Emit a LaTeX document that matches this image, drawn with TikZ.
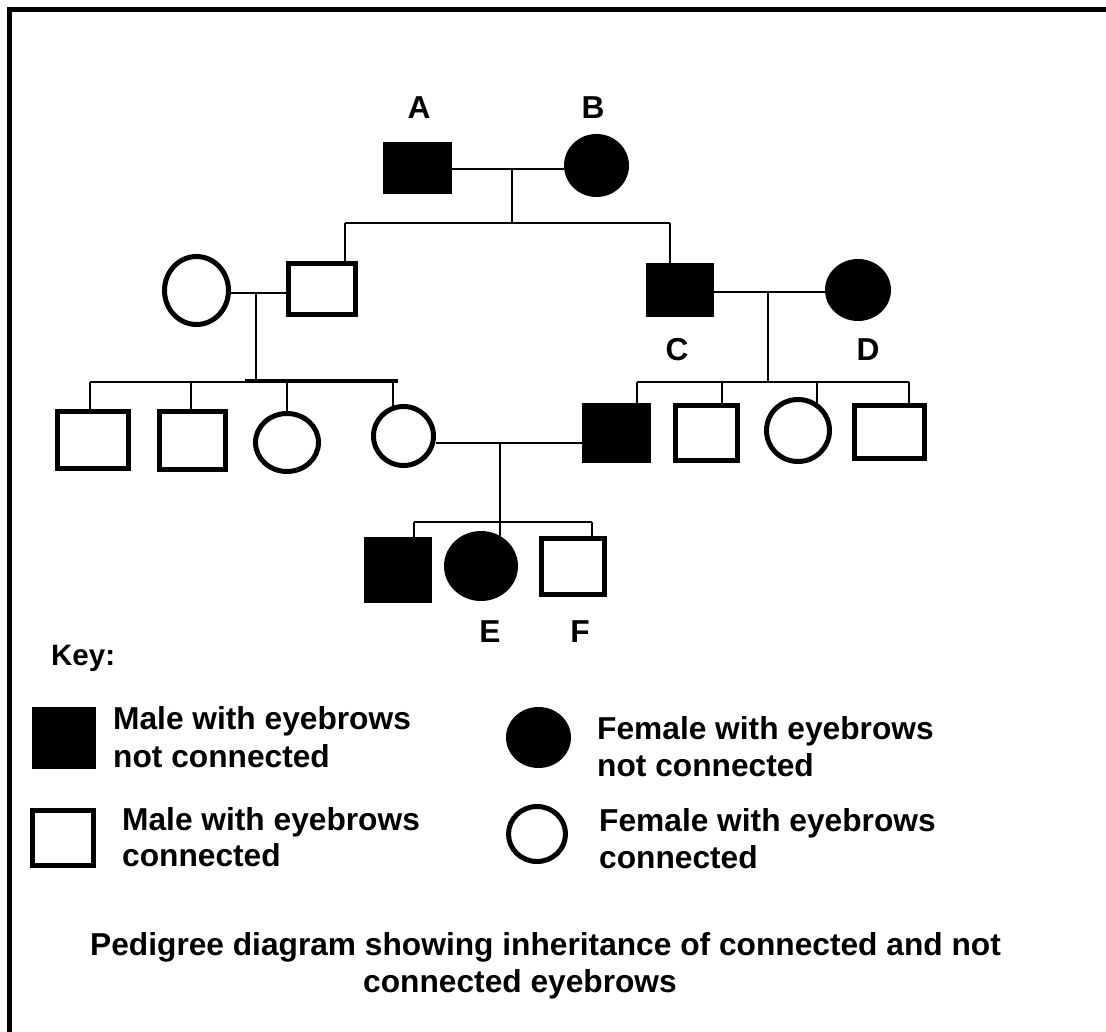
\documentclass[tikz,border=0pt]{standalone}
\usepackage{fontspec}
\setmainfont{Liberation Sans}
\usetikzlibrary{shapes.geometric}
\tikzset{
  conn/.style={line width=2pt, draw=black},
  bar/.style={line width=3.5pt, draw=black},
  fmale/.style={rectangle, fill=black, draw=none, inner sep=0pt, outer sep=0pt},
  omale/.style={rectangle, draw=black, fill=white, line width=5pt, inner sep=0pt},
  ffemale/.style={ellipse, fill=black, draw=none, inner sep=0pt, outer sep=0pt},
  ofemale/.style={ellipse, draw=black, fill=white, line width=5pt, inner sep=0pt},
  lbl/.style={font=\bfseries\fontsize{31.7}{38}\selectfont, inner sep=0pt},
  keytxt/.style={font=\bfseries\fontsize{31.7}{38}\selectfont, inner sep=0pt, anchor=base west},
}
\begin{document}
\begin{tikzpicture}[x=1pt,y=-1pt]
\useasboundingbox (0,0) rectangle (1106,1032);
\fill[white] (0,0) rectangle (1106,1032);
% frame (top and left edges)
\draw[line width=5pt, line join=miter] (9,1032) -- (9,9.5) -- (1106,9.5);

% generation I
\node[fmale, minimum width=69pt, minimum height=52pt] (A) at (417.5,168) {};
\node[ffemale, minimum width=65pt, minimum height=63pt] (B) at (596.5,165.5) {};
\node[lbl] (lA) at (419,108) {A};
\node[lbl] (lB) at (593,108) {B};

% generation II
\node[ofemale, minimum width=64pt, minimum height=68pt] (W1) at (196.5,290.5) {};
\node[omale, minimum width=67pt, minimum height=51pt] (S1) at (322,289) {};
\node[fmale, minimum width=68pt, minimum height=54pt] (C) at (680,290) {};
\node[ffemale, minimum width=66pt, minimum height=62pt] (D) at (858,290) {};
\node[lbl] (lC) at (677,350) {C};
\node[lbl] (lD) at (868,350) {D};

% generation III
\node[omale, minimum width=71pt, minimum height=57pt] (L1) at (93,440) {};
\node[omale, minimum width=66pt, minimum height=58pt] (L2) at (192.5,440.5) {};
\node[ofemale, minimum width=63pt, minimum height=58pt] (L3) at (287,442.5) {};
\node[ofemale, minimum width=60pt, minimum height=59pt] (L4) at (403.5,436) {};
\node[fmale, minimum width=69pt, minimum height=60pt] (R1) at (616.5,433) {};
\node[omale, minimum width=62pt, minimum height=55pt] (R2) at (706.5,433) {};
\node[ofemale, minimum width=63pt, minimum height=62pt] (R3) at (798,430.5) {};
\node[omale, minimum width=70pt, minimum height=53pt] (R4) at (889.5,432) {};

% generation IV
\node[fmale, minimum width=68pt, minimum height=66pt] (G1) at (398,570) {};
\node[ffemale, minimum width=74pt, minimum height=70pt] (E) at (481,566) {};
\node[omale, minimum width=63pt, minimum height=56pt] (F) at (573,566.5) {};
\node[lbl] (lE) at (490,632) {E};
\node[lbl] (lF) at (580,632) {F};

% connectors: A x B
\coordinate (mAB) at (512,169);
\coordinate (sAB) at (512,223);
\coordinate (sAL) at (345,223);
\coordinate (sAR) at (670,223);
\draw[conn] (A.east |- mAB) -- (B.west |- mAB);
\draw[conn] (mAB) -- (sAB);
\draw[conn] (sAL) -- (sAR);
\draw[conn] (sAL) -- (sAL |- S1.north);
\draw[conn] (sAR) -- (sAR |- C.north);

% W1 x S1
\coordinate (mWS) at (256,293);
\coordinate (sWS) at (256,381);
\coordinate (sL1) at (90,382);
\coordinate (sL2) at (191,382);
\coordinate (sL3) at (287,382);
\coordinate (sL4) at (393,382);
\coordinate (barL) at (245,381);
\coordinate (barR) at (398,381);
\draw[conn] (W1.east |- mWS) -- (S1.west |- mWS);
\draw[conn] (mWS) -- (sWS);
\draw[conn] (sL1) -- (sL4);
\draw[bar] (barL) -- (barR);
\draw[conn] (sL1) -- (sL1 |- L1.north);
\draw[conn] (sL2) -- (sL2 |- L2.north);
\draw[conn] (sL3) -- (sL3 |- L3.north);
\draw[conn] (sL4) -- (sL4 |- L4.109);

% C x D
\coordinate (mCD) at (768,292);
\coordinate (sCD) at (768,382);
\coordinate (sR1) at (637,382);
\coordinate (sR2) at (722,382);
\coordinate (sR3) at (817,382);
\coordinate (sR4) at (909,382);
\draw[conn] (C.east |- mCD) -- (D.west |- mCD);
\draw[conn] (mCD) -- (sCD);
\draw[conn] (sR1) -- (sR4);
\draw[conn] (sR1) -- (sR1 |- R1.north);
\draw[conn] (sR2) -- (sR2 |- R2.north);
\draw[conn] (sR3) -- (sR3 |- R3.55);
\draw[conn] (sR4) -- (sR4 |- R4.north);

% L4 x R1
\coordinate (mLR) at (500,443);
\coordinate (sG1) at (414,522);
\coordinate (sF) at (592,522);
\draw[conn] (L4.east |- mLR) -- (R1.west |- mLR);
\draw[conn] (mLR) -- (mLR |- E.58);
\draw[conn] (sG1) -- (sF);
\draw[conn] (sG1) -- (sG1 |- G1.north);
\draw[conn] (sF) -- (sF |- F.north);

% key
\node[font=\bfseries\fontsize{29.5}{35}\selectfont, inner sep=0pt, anchor=base west] (key) at (51,665) {Key:};
\node[fmale, minimum width=64pt, minimum height=62pt] (KMF) at (64,738) {};
\node[keytxt] (tMF1) at (113,729) {Male with eyebrows};
\node[keytxt] (tMF2) at (113,767) {not connected};
\node[ffemale, minimum width=65pt, minimum height=61pt] (KFF) at (538.5,737.5) {};
\node[keytxt] (tFF1) at (597,739) {Female with eyebrows};
\node[keytxt] (tFF2) at (597,776) {not connected};
\node[omale, minimum width=61pt, minimum height=55pt] (KMO) at (63,838) {};
\node[keytxt] (tMO1) at (122,830) {Male with eyebrows};
\node[keytxt] (tMO2) at (122,866) {connected};
\node[ofemale, minimum width=57pt, minimum height=55pt] (KFO) at (537,834) {};
\node[keytxt] (tFO1) at (599,831) {Female with eyebrows};
\node[keytxt] (tFO2) at (599,868) {connected};

% title
\node[keytxt, anchor=base] (title1) at (545.5,955) {Pedigree diagram showing inheritance of connected and not};
\node[keytxt, anchor=base] (title2) at (520,992) {connected eyebrows};
\end{tikzpicture}
\end{document}
